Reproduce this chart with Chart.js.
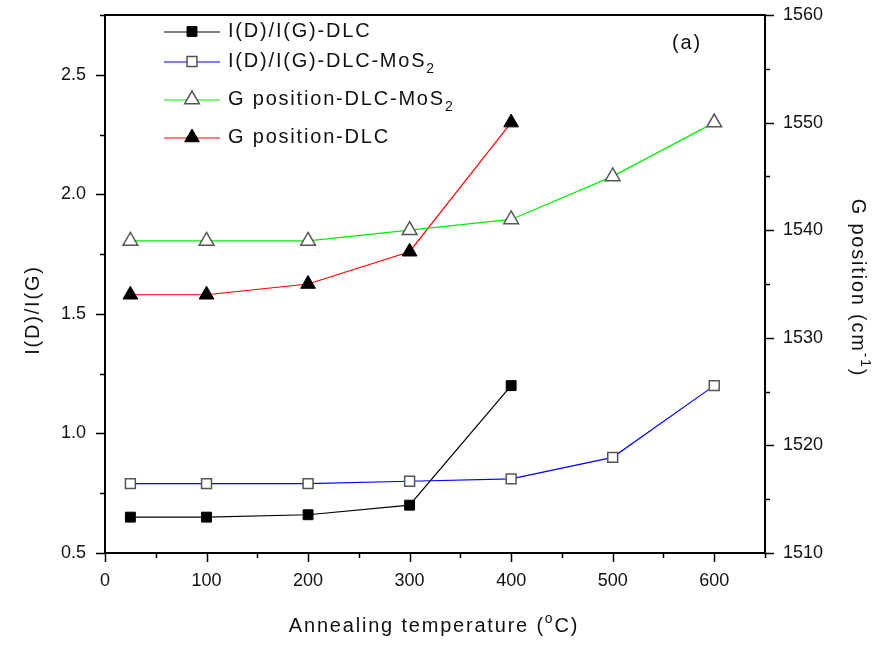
<!DOCTYPE html>
<html>
<head>
<meta charset="utf-8">
<script src="https://cdn.jsdelivr.net/npm/chart.js@4/dist/chart.umd.min.js"></script>
<style>
  html, body { margin: 0; padding: 0; background: #fff; }
  canvas { display: block; }
</style>
</head>
<body>
<canvas id="chart" width="893" height="646"></canvas>
<script>
// Annealing temperatures (°C)
const tempDLC = [25, 100, 200, 300, 400];
const tempMoS2 = [25, 100, 200, 300, 400, 500, 600];

// I(D)/I(G) intensity ratios (left axis)
const ratioDLC = [0.65, 0.65, 0.66, 0.70, 1.20];
const ratioMoS2 = [0.79, 0.79, 0.79, 0.80, 0.81, 0.90, 1.20];

// G peak positions, cm-1 (right axis)
const gPosMoS2 = [1539, 1539, 1539, 1540, 1541, 1545, 1550];
const gPosDLC = [1534, 1534, 1535, 1538, 1550];

// Axis ranges: [min, max, minor step, major step]
const xAxisRange = [0, 650, 50, 100];
const ratioAxisRange = [0.5, 2.75, 0.25, 0.5];
const gAxisRange = [1510, 1560, 5, 10];

const FONT = '"Liberation Sans", Arial, sans-serif';

function points(xs, ys) {
    return xs.map((x, i) => ({ x: x, y: ys[i] }));
}

function isMajor(value, range) {
    const r = (value - range[0]) / range[3];
    return Math.abs(r - Math.round(r)) < 1e-6;
}

// Draws a run of text pieces, some of them sub- or superscripted
function drawRich(ctx, parts, x, y, size, align) {
    ctx.letterSpacing = '1.8px';
    const widths = parts.map(p => {
        ctx.font = (p.sub || p.sup ? Math.round(size * 0.7) : size) + 'px ' + FONT;
        return ctx.measureText(p.t).width;
    });
    const total = widths.reduce((a, b) => a + b, 0);
    let cx = align === 'center' ? x - total / 2 : x;
    ctx.textBaseline = 'middle';
    ctx.textAlign = 'left';
    parts.forEach((p, i) => {
        ctx.font = (p.sub || p.sup ? Math.round(size * 0.7) : size) + 'px ' + FONT;
        let dy = 0;
        if (p.sub) dy = size * 0.38;
        if (p.sup) dy = -size * 0.36;
        ctx.fillText(p.t, cx, y + dy);
        cx += widths[i];
    });
    ctx.letterSpacing = '0px';
}

const legendRows = [
    { parts: [{ t: 'I(D)/I(G)-DLC' }], y: 31.5 },
    { parts: [{ t: 'I(D)/I(G)-DLC-MoS' }, { t: '2', sub: true }], y: 61.5 },
    { parts: [{ t: 'G position-DLC-MoS' }, { t: '2', sub: true }], y: 99.5 },
    { parts: [{ t: 'G position-DLC' }], y: 137.5 }
];

// Frame, outward ticks, titles and the legend
const decorations = {
    id: 'decorations',
    afterDraw(chart) {
        const { ctx, chartArea: a, scales } = chart;
        ctx.save();

        // tick marks
        ctx.strokeStyle = '#000';
        ctx.lineWidth = 1.5;
        ctx.beginPath();
        scales.x.ticks.forEach(t => {
            const px = Math.round(scales.x.getPixelForValue(t.value)) + 0.5;
            const len = isMajor(t.value, xAxisRange) ? 9 : 5;
            ctx.moveTo(px, a.bottom);
            ctx.lineTo(px, a.bottom + len);
        });
        scales.y.ticks.forEach(t => {
            const py = Math.round(scales.y.getPixelForValue(t.value)) + 0.5;
            const len = isMajor(t.value, ratioAxisRange) ? 9 : 5;
            ctx.moveTo(a.left - len, py);
            ctx.lineTo(a.left, py);
        });
        scales.y1.ticks.forEach(t => {
            const py = Math.round(scales.y1.getPixelForValue(t.value)) + 0.5;
            const len = isMajor(t.value, gAxisRange) ? 9 : 5;
            ctx.moveTo(a.right, py);
            ctx.lineTo(a.right + len, py);
        });
        ctx.stroke();

        // plot frame
        ctx.lineWidth = 2;
        ctx.strokeRect(a.left, a.top, a.right - a.left, a.bottom - a.top);

        // axis titles
        ctx.fillStyle = '#111';
        drawRich(ctx, [{ t: 'Annealing temperature (' }, { t: 'o', sup: true }, { t: 'C)' }],
            434, 626, 20, 'center');

        ctx.save();
        ctx.translate(33, 310);
        ctx.rotate(-Math.PI / 2);
        drawRich(ctx, [{ t: 'I(D)/I(G)' }], 0, 0, 20, 'center');
        ctx.restore();

        ctx.save();
        ctx.translate(858, 288);
        ctx.rotate(Math.PI / 2);
        drawRich(ctx, [{ t: 'G position (cm' }, { t: '-1', sup: true }, { t: ')' }], 0, 0, 20, 'center');
        ctx.restore();

        drawRich(ctx, [{ t: '(a)' }], 687, 43, 20, 'center');

        // legend: line sample, marker, label
        chart.data.datasets.forEach((ds, i) => {
            const row = legendRows[i];
            ctx.strokeStyle = ds.borderColor;
            ctx.lineWidth = ds.borderWidth;
            ctx.beginPath();
            ctx.moveTo(164, Math.round(row.y));
            ctx.lineTo(220, Math.round(row.y));
            ctx.stroke();
            ctx.fillStyle = ds.pointBackgroundColor;
            ctx.strokeStyle = ds.pointBorderColor;
            ctx.lineWidth = ds.pointBorderWidth;
            Chart.helpers.drawPoint(ctx, {
                pointStyle: ds.pointStyle,
                radius: ds.pointRadius,
                borderWidth: ds.pointBorderWidth,
                rotation: 0
            }, 192, row.y);
            ctx.fillStyle = '#111';
            drawRich(ctx, row.parts, 228, row.y, 20, 'left');
        });

        ctx.restore();
    }
};

function tickLabel(range, digits) {
    return function (value) {
        if (value > range[1] - 1e-9 && !isMajor(range[1], range)) return '';
        return isMajor(value, range) ? value.toFixed(digits) : '';
    };
}

// fixed axis sizes so the plot box lands where it should
function fixSize(prop, size) {
    return function (scale) {
        scale[prop] = size;
        scale.paddingTop = 0;
        scale.paddingBottom = 0;
        scale.paddingLeft = 0;
        scale.paddingRight = 0;
    };
}

new Chart(document.getElementById('chart'), {
    type: 'line',
    data: {
        datasets: [
            {
                label: 'I(D)/I(G)-DLC',
                data: points(tempDLC, ratioDLC),
                yAxisID: 'y',
                borderColor: '#000000',
                borderWidth: 1.2,
                pointStyle: 'rect',
                pointRadius: 7,
                pointBackgroundColor: '#000000',
                pointBorderColor: '#000000',
                pointBorderWidth: 1
            },
            {
                label: 'I(D)/I(G)-DLC-MoS2',
                data: points(tempMoS2, ratioMoS2),
                yAxisID: 'y',
                borderColor: '#0000ff',
                borderWidth: 1.2,
                pointStyle: 'rect',
                pointRadius: 7,
                pointBackgroundColor: '#ffffff',
                pointBorderColor: '#555555',
                pointBorderWidth: 1.5
            },
            {
                label: 'G position-DLC-MoS2',
                data: points(tempMoS2, gPosMoS2),
                yAxisID: 'y1',
                borderColor: '#00ee00',
                borderWidth: 1.2,
                pointStyle: 'triangle',
                pointRadius: 8.5,
                pointBackgroundColor: '#ffffff',
                pointBorderColor: '#555555',
                pointBorderWidth: 1.5
            },
            {
                label: 'G position-DLC',
                data: points(tempDLC, gPosDLC),
                yAxisID: 'y1',
                borderColor: '#ff0000',
                borderWidth: 1.2,
                pointStyle: 'triangle',
                pointRadius: 8.5,
                pointBackgroundColor: '#000000',
                pointBorderColor: '#000000',
                pointBorderWidth: 1
            }
        ]
    },
    options: {
        responsive: false,
        animation: false,
        layout: { padding: { top: 15, left: 0, right: 0, bottom: 0 } },
        plugins: { legend: { display: false }, tooltip: { enabled: false } },
        elements: { line: { tension: 0 } },
        scales: {
            x: {
                type: 'linear',
                min: xAxisRange[0],
                max: xAxisRange[1],
                grid: { display: false, drawTicks: false },
                border: { display: false },
                ticks: {
                    stepSize: xAxisRange[2],
                    autoSkip: false,
                    maxRotation: 0,
                    padding: 17,
                    color: '#111',
                    font: { family: FONT, size: 18 },
                    callback: tickLabel(xAxisRange, 0)
                },
                afterFit: fixSize('height', 93)
            },
            y: {
                position: 'left',
                min: ratioAxisRange[0],
                max: ratioAxisRange[1],
                grid: { display: false, drawTicks: false },
                border: { display: false },
                ticks: {
                    stepSize: ratioAxisRange[2],
                    autoSkip: false,
                    padding: 19,
                    color: '#111',
                    font: { family: FONT, size: 18 },
                    callback: tickLabel(ratioAxisRange, 1)
                },
                afterFit: fixSize('width', 105)
            },
            y1: {
                position: 'right',
                min: gAxisRange[0],
                max: gAxisRange[1],
                grid: { display: false, drawTicks: false },
                border: { display: false },
                ticks: {
                    stepSize: gAxisRange[2],
                    autoSkip: false,
                    padding: 18,
                    color: '#111',
                    font: { family: FONT, size: 18 },
                    callback: tickLabel(gAxisRange, 0)
                },
                afterFit: fixSize('width', 128)
            }
        }
    },
    plugins: [decorations]
});
</script>
</body>
</html>
